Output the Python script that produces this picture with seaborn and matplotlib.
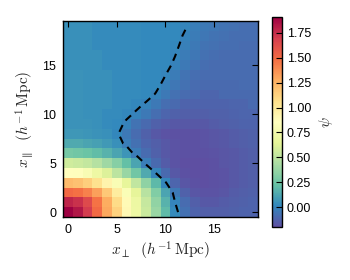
import numpy as np
import matplotlib
matplotlib.use("Agg")
import matplotlib.pyplot as plt
import seaborn as sns

# cell centres (h^-1 Mpc)
x_perp = [0, 1, 2, 3, 4, 5, 6, 7, 8, 9, 10, 11, 12, 13, 14, 15, 16, 17, 18, 19]
x_par = [0, 1, 2, 3, 4, 5, 6, 7, 8, 9, 10, 11, 12, 13, 14, 15, 16, 17, 18, 19]

# psi, one list per x_parallel row
y00 = [1.91, 1.83, 1.70, 1.50, 1.30, 1.12, 0.90, 0.71, 0.55, 0.38, 0.20, 0.03, -0.07, -0.12, -0.14, -0.14, -0.14, -0.13, -0.12, -0.12]
y01 = [1.78, 1.74, 1.64, 1.47, 1.28, 1.08, 0.89, 0.70, 0.53, 0.36, 0.17, 0.00, -0.09, -0.14, -0.16, -0.16, -0.15, -0.14, -0.13, -0.12]
y02 = [1.50, 1.48, 1.42, 1.32, 1.16, 0.98, 0.81, 0.65, 0.48, 0.31, 0.12, -0.04, -0.13, -0.17, -0.18, -0.18, -0.17, -0.15, -0.14, -0.13]
y03 = [1.22, 1.20, 1.14, 1.05, 0.93, 0.80, 0.66, 0.51, 0.35, 0.19, 0.01, -0.11, -0.17, -0.19, -0.20, -0.19, -0.18, -0.16, -0.15, -0.14]
y04 = [0.86, 0.84, 0.79, 0.71, 0.61, 0.50, 0.38, 0.26, 0.13, 0.00, -0.10, -0.16, -0.19, -0.20, -0.20, -0.19, -0.18, -0.16, -0.15, -0.14]
y05 = [0.56, 0.55, 0.52, 0.47, 0.40, 0.32, 0.22, 0.12, -0.02, -0.10, -0.15, -0.18, -0.20, -0.20, -0.20, -0.19, -0.17, -0.16, -0.15, -0.14]
y06 = [0.27, 0.26, 0.24, 0.21, 0.17, 0.12, 0.06, -0.03, -0.09, -0.13, -0.16, -0.18, -0.19, -0.19, -0.19, -0.18, -0.17, -0.16, -0.15, -0.14]
y07 = [0.13, 0.13, 0.12, 0.10, 0.08, 0.04, -0.02, -0.07, -0.11, -0.14, -0.16, -0.18, -0.19, -0.19, -0.18, -0.17, -0.16, -0.15, -0.14, -0.13]
y08 = [0.07, 0.07, 0.06, 0.05, 0.04, 0.01, -0.04, -0.09, -0.13, -0.16, -0.18, -0.19, -0.19, -0.19, -0.18, -0.17, -0.16, -0.15, -0.14, -0.13]
y09 = [0.05, 0.05, 0.05, 0.04, 0.03, 0.02, -0.01, -0.06, -0.10, -0.13, -0.15, -0.16, -0.16, -0.16, -0.16, -0.15, -0.14, -0.13, -0.12, -0.12]
y10 = [0.05, 0.05, 0.04, 0.04, 0.03, 0.03, 0.013, -0.008, -0.04, -0.08, -0.11, -0.13, -0.14, -0.14, -0.14, -0.13, -0.13, -0.12, -0.11, -0.11]
y11 = [0.05, 0.05, 0.04, 0.04, 0.04, 0.03, 0.03, 0.014, -0.006, -0.04, -0.08, -0.10, -0.12, -0.12, -0.12, -0.12, -0.12, -0.11, -0.11, -0.10]
y12 = [0.05, 0.05, 0.04, 0.04, 0.04, 0.03, 0.03, 0.03, 0.02, -0.003, -0.04, -0.07, -0.09, -0.10, -0.11, -0.11, -0.10, -0.10, -0.10, -0.10]
y13 = [0.05, 0.05, 0.04, 0.04, 0.04, 0.03, 0.03, 0.03, 0.02, 0.015, -0.015, -0.05, -0.07, -0.09, -0.10, -0.10, -0.10, -0.10, -0.09, -0.09]
y14 = [0.05, 0.05, 0.04, 0.04, 0.04, 0.03, 0.03, 0.03, 0.02, 0.02, 0.001, -0.03, -0.06, -0.08, -0.09, -0.09, -0.09, -0.09, -0.09, -0.09]
y15 = [0.04, 0.04, 0.04, 0.04, 0.03, 0.03, 0.03, 0.03, 0.02, 0.02, 0.015, -0.01, -0.04, -0.06, -0.08, -0.09, -0.09, -0.09, -0.09, -0.09]
y16 = [0.04, 0.04, 0.04, 0.04, 0.03, 0.03, 0.03, 0.03, 0.02, 0.02, 0.02, 0.001, -0.03, -0.05, -0.07, -0.08, -0.09, -0.09, -0.09, -0.09]
y17 = [0.04, 0.04, 0.04, 0.03, 0.03, 0.03, 0.03, 0.03, 0.02, 0.02, 0.02, 0.01, -0.015, -0.04, -0.06, -0.07, -0.08, -0.08, -0.09, -0.09]
y18 = [0.04, 0.04, 0.04, 0.03, 0.03, 0.03, 0.03, 0.03, 0.02, 0.02, 0.02, 0.015, -0.005, -0.03, -0.05, -0.06, -0.07, -0.08, -0.08, -0.08]
y19 = [0.04, 0.04, 0.04, 0.03, 0.03, 0.03, 0.03, 0.03, 0.02, 0.02, 0.02, 0.02, 0.005, -0.02, -0.04, -0.05, -0.06, -0.07, -0.08, -0.08]

tick_vals = [0, 5, 10, 15]
cbar_ticks = [0.0, 0.25, 0.5, 0.75, 1.0, 1.25, 1.5, 1.75]

psi = np.array([y00, y01, y02, y03, y04, y05, y06, y07, y08, y09,
                y10, y11, y12, y13, y14, y15, y16, y17, y18, y19])

sns.set_style("white")
plt.rcParams['font.family'] = ['Liberation Sans', 'DejaVu Sans']
plt.rcParams['mathtext.fontset'] = 'cm'
plt.rcParams['lines.dashed_pattern'] = [3.6, 2.6]

fig = plt.figure(figsize=(3.5, 2.8), dpi=100)
ax = fig.add_axes([63/350, 63/280, 195/350, 196/280])
cax = fig.add_axes([272/350, 53/280, 10/350, 210/280])

sns.heatmap(psi, ax=ax, cmap='Spectral_r', cbar_ax=cax,
            xticklabels=False, yticklabels=False)
ax.set_ylim(0, len(x_par))
ax.set_xlim(0, len(x_perp))
ax.set_axisbelow(False)

# zero contour on the cell centres
ax.contour(np.array(x_perp) + 0.5, np.array(x_par) + 0.5, psi, levels=[0],
           colors='k', linestyles='dashed', linewidths=1.5)

for s in ax.spines.values():
    s.set_visible(True)
    s.set_color('k')
    s.set_linewidth(1.0)

ax.set_xticks([t + 0.5 for t in tick_vals])
ax.set_yticks([t + 0.5 for t in tick_vals])
ax.set_xticklabels([str(t) for t in tick_vals])
ax.set_yticklabels([str(t) for t in tick_vals], rotation=0)
ax.tick_params(direction='in', length=4, width=0.8, top=True, right=True,
               labelsize=9, colors='k', pad=5)
ax.set_xlabel(r'$x_\perp\ \ (h^{-1}\,{\rm Mpc})$', fontsize=11, labelpad=3)
ax.set_ylabel(r'$x_\parallel\ \ (h^{-1}\,{\rm Mpc})$', fontsize=11, labelpad=4)

cb = ax.collections[0].colorbar
cb.outline.set_visible(True)
cb.outline.set_linewidth(1.0)
cb.outline.set_edgecolor('k')
cb.set_ticks(cbar_ticks)
cb.set_ticklabels(['%.2f' % t for t in cbar_ticks])
cax.set_axisbelow(False)
cax.tick_params(direction='in', length=4, width=0.8, labelsize=9, colors='k')
cb.set_label(r'$\psi$', fontsize=11, labelpad=4)

fig.savefig('out.png', dpi=100)
